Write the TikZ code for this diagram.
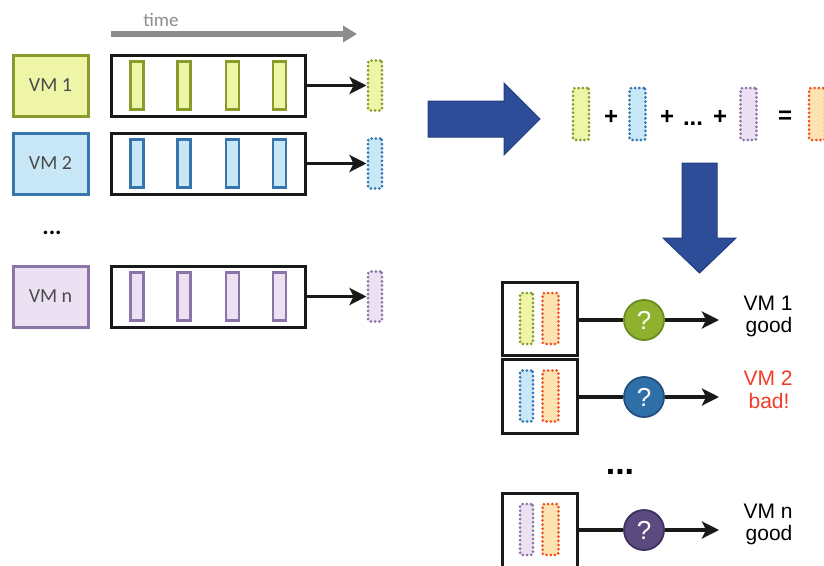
\documentclass[tikz,border=0pt]{standalone}
\usepackage{fontspec}
\setmainfont{Carlito}
\newfontfamily\arialf{Liberation Sans}
\usetikzlibrary{arrows.meta}

\definecolor{grnB}{HTML}{8A9B2D}
\definecolor{grnF}{HTML}{EEF5A6}
\definecolor{bluB}{HTML}{3675AD}
\definecolor{bluF}{HTML}{C9E8F7}
\definecolor{purB}{HTML}{8B74A8}
\definecolor{purF}{HTML}{EBE1F2}
\definecolor{orgB}{HTML}{F0541E}
\definecolor{orgF}{HTML}{FDE3B2}
\definecolor{vmtext}{HTML}{4A4A4A}
\definecolor{navy}{HTML}{2E4D99}
\definecolor{navyD}{HTML}{233D7D}
\definecolor{cGrn}{HTML}{8FB22E}
\definecolor{cGrnD}{HTML}{6C8A1E}
\definecolor{cBlu}{HTML}{2F6FA8}
\definecolor{cBluD}{HTML}{214F80}
\definecolor{cPur}{HTML}{5B4A7F}
\definecolor{cPurD}{HTML}{3D3160}
\definecolor{badred}{HTML}{F03C28}
\definecolor{timegray}{HTML}{8C8C8C}

\begin{document}
\begin{tikzpicture}[x=1pt,y=-1pt,
  vmbox/.style={draw, line width=3pt, minimum width=75pt, minimum height=61pt,
    inner sep=0pt, font=\fontsize{20}{24}\selectfont, text=vmtext},
  tlbox/.style={draw=black!90, line width=3pt, minimum width=194pt,
    minimum height=61pt, inner sep=0pt},
  solidbar/.style={draw, line width=2.4pt, minimum width=13pt,
    minimum height=48pt, inner sep=0pt},
  dotbar/.style={draw, line width=3pt, dash pattern=on 0pt off 4.2pt,
    line cap=round, rounded corners=2pt, minimum width=14pt,
    minimum height=50pt, inner sep=0pt},
  pairbox/.style={draw=black!90, line width=3pt, minimum width=75pt,
    minimum height=73pt, inner sep=0pt},
  flow/.style={draw=black!90, line width=3.2pt, -{Stealth[length=17pt,width=17pt,inset=4pt]}},
  link/.style={draw=black!90, line width=3.2pt},
  judge/.style={circle, line width=1.8pt, minimum size=40pt, inner sep=0pt,
    text=white, font=\arialf\fontsize{26}{26}\selectfont},
  verdict/.style={anchor=base, font=\arialf\fontsize{21}{22}\selectfont},
  opsym/.style={font=\arialf\bfseries\fontsize{24}{24}\selectfont},
  blockarrow/.style={fill=navy, draw=navyD, line width=1pt, line join=miter}
]
\useasboundingbox (0,0) rectangle (824,565);
\clip (0,0) rectangle (824,565);

% ---- time axis ----
\node[anchor=base, text=timegray, font=\fontsize{19}{20}\selectfont] (timelbl) at (161,26) {time};
\coordinate (t0) at (111,34);
\coordinate (t1) at (357,34);
\draw[draw=timegray, line width=5.5pt, -{Triangle[length=14pt,width=16pt]}] (t0) -- (t1);

% ---- VM rows with sampled bars ----
\node[vmbox, draw=grnB, fill=grnF] (vm1) at (50.5,85.5) {VM 1};
\node[vmbox, draw=bluB, fill=bluF] (vm2) at (50.5,163.5) {VM 2};
\node[vmbox, draw=purB, fill=purF] (vmn) at (50.5,296.5) {VM n};
\node[anchor=base, font=\bfseries\fontsize{24}{24}\selectfont] (ldots) at (52,234) {...};

\node[tlbox] (tl1) at (208,85.5) {};
\node[tlbox] (tl2) at (208,163.5) {};
\node[tlbox] (tln) at (208,296.5) {};

\foreach \xx [count=\i] in {137,184,232.5,279.5}{
  \node[solidbar, draw=grnB, fill=grnF] (g\i) at (\xx,85.5) {};
  \node[solidbar, draw=bluB, fill=bluF] (b\i) at (\xx,163.5) {};
  \node[solidbar, draw=purB, fill=purF] (p\i) at (\xx,296.5) {};
}

\node[dotbar, draw=grnB, fill=grnF] (s1) at (375,85.5) {};
\node[dotbar, draw=bluB, fill=bluF] (s2) at (375,163.5) {};
\node[dotbar, draw=purB, fill=purF] (sn) at (375,296.5) {};

\draw[flow] (tl1.east) -- (s1.west);
\draw[flow] (tl2.east) -- (s2.west);
\draw[flow] (tln.east) -- (sn.west);

% ---- big block arrows ----
\draw[blockarrow] (428,101) -- (504,101) -- (504,83) -- (540,119) -- (504,155)
  -- (504,137) -- (428,137) -- cycle;
\draw[blockarrow] (682,163) -- (717,163) -- (717,238) -- (736,238) -- (699.5,273)
  -- (663,238) -- (682,238) -- cycle;

% ---- sum of summaries ----
\node[dotbar, minimum width=16pt, minimum height=52pt, draw=grnB, fill=grnF] (eg) at (581,114) {};
\node[opsym] (pl1) at (611,117) {+};
\node[dotbar, minimum width=16pt, minimum height=52pt, draw=bluB, fill=bluF] (eb) at (637.5,114) {};
\node[opsym] (pl2) at (667,117) {+};
\node[anchor=base, font=\arialf\bfseries\fontsize{24}{24}\selectfont] (mdots) at (693,125) {...};
\node[opsym] (pl3) at (720,117) {+};
\node[dotbar, minimum width=16pt, minimum height=52pt, draw=purB, fill=purF] (ep) at (748.5,114) {};
\node[opsym] (eqs) at (785,117) {=};
\node[dotbar, minimum width=16pt, minimum height=52pt, draw=orgB, fill=orgF] (eo) at (817,114) {};

% ---- per-VM comparison ----
\node[pairbox] (c1) at (539.5,318.5) {};
\node[pairbox, minimum height=74pt] (c2) at (539.5,396) {};
\node[pairbox, minimum height=80pt] (c3) at (539.5,533) {};

\node[dotbar, draw=grnB, fill=grnF, minimum height=51pt, minimum width=13pt] (c1a) at (526.5,318.5) {};
\node[dotbar, draw=orgB, fill=orgF, minimum height=51pt, minimum width=16pt] (c1b) at (550.5,318.5) {};
\node[dotbar, draw=bluB, fill=bluF, minimum height=51pt, minimum width=13pt] (c2a) at (526.5,396) {};
\node[dotbar, draw=orgB, fill=orgF, minimum height=51pt, minimum width=16pt] (c2b) at (550.5,396) {};
\node[dotbar, draw=purB, fill=purF, minimum height=51pt, minimum width=13pt] (c3a) at (526.5,529.5) {};
\node[dotbar, draw=orgB, fill=orgF, minimum height=51pt, minimum width=16pt] (c3b) at (550.5,529.5) {};

\node[judge, fill=cGrn, draw=cGrnD] (q1) at (644,320) {?};
\node[judge, fill=cBlu, draw=cBluD] (q2) at (644,397) {?};
\node[judge, fill=cPur, draw=cPurD] (q3) at (644,530) {?};

\coordinate (e1) at (719,320);
\coordinate (e2) at (719,397);
\coordinate (e3) at (719,530);

\draw[link] (c1.east |- q1.west) -- (q1.west);
\draw[link] (c2.east |- q2.west) -- (q2.west);
\draw[link] (c3.east |- q3.west) -- (q3.west);
\draw[flow] (q1.east) -- (e1);
\draw[flow] (q2.east) -- (e2);
\draw[flow] (q3.east) -- (e3);

\node[anchor=base, font=\arialf\bfseries\fontsize{34}{34}\selectfont] (rdots) at (620,474) {...};

\node[verdict] (v1a) at (768,310) {VM 1};
\node[verdict] (v1b) at (769,332) {good};
\node[verdict, text=badred] (v2a) at (768,385) {VM 2};
\node[verdict, text=badred] (v2b) at (769,408) {bad!};
\node[verdict] (v3a) at (768,518) {VM n};
\node[verdict] (v3b) at (769,540) {good};
\end{tikzpicture}
\end{document}
